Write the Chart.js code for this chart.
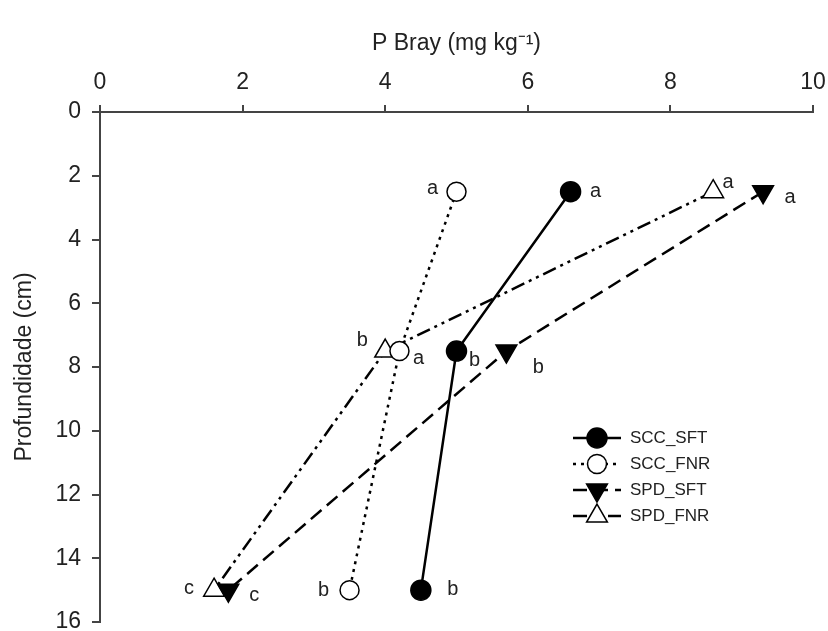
<!DOCTYPE html>
<html>
<head>
<meta charset="utf-8">
<script src="https://cdn.jsdelivr.net/npm/chart.js@4/dist/chart.umd.min.js"></script>
<style>
  html, body { margin: 0; padding: 0; background: #fff; }
</style>
</head>
<body>
<canvas id="chart" width="828" height="631"></canvas>
<script>
// depth of each sampling layer (cm)
const depths = [2.5, 7.5, 15];

// P Bray (mg kg-1) per treatment
const sccSft = [6.6, 5.0, 4.5];
const sccFnr = [5.0, 4.2, 3.5];
const spdSft = [9.3, 5.7, 1.8];
const spdFnr = [8.6, 4.0, 1.6];

// significance letters
const sccSftLetters = ['a', 'b', 'b'];
const sccFnrLetters = ['a', 'a', 'b'];
const spdSftLetters = ['a', 'b', 'c'];
const spdFnrLetters = ['a', 'b', 'c'];

const xTicks = [0, 2, 4, 6, 8, 10];
const yTicks = [0, 2, 4, 6, 8, 10, 12, 14, 16];

const toPoints = vals => vals.map((v, i) => ({ x: v, y: depths[i] }));

// pixel offsets of the letters from their points
const letterOffsets = [
  [[25, 0], [18, 9], [32, -1]],
  [[-24, -3], [19, 7], [-26, 0]],
  [[27, 6], [32, 16], [26, 5]],
  [[15, -9], [-23, -11], [-25, -2]]
];
const allLetters = [sccSftLetters, sccFnrLetters, spdSftLetters, spdFnrLetters];

// let the y axis run down to the bottom edge like the original (16 label gets cut)
const areaPlugin = {
  id: 'area',
  afterLayout(chart) {
    const ys = chart.scales.y;
    const bottom = 622;
    chart.chartArea.bottom = bottom;
    chart.chartArea.height = bottom - chart.chartArea.top;
    ys.bottom = bottom;
    ys.height = bottom - ys.top;
    ys.configure();
  }
};

const lettersPlugin = {
  id: 'letters',
  afterDatasetsDraw(chart) {
    const ctx = chart.ctx;
    const xs = chart.scales.x, ys = chart.scales.y;
    ctx.save();
    ctx.fillStyle = '#222';
    ctx.font = '20px "Liberation Sans", Arial, sans-serif';
    ctx.textAlign = 'center';
    ctx.textBaseline = 'middle';
    chart.data.datasets.forEach((ds, i) => {
      ds.data.forEach((p, j) => {
        const off = letterOffsets[i][j];
        ctx.fillText(allLetters[i][j], xs.getPixelForValue(p.x) + off[0], ys.getPixelForValue(p.y) + off[1]);
      });
    });
    ctx.restore();
  }
};

const legendPlugin = {
  id: 'boxLegend',
  afterDraw(chart) {
    const ctx = chart.ctx;
    ctx.save();
    chart.data.datasets.forEach((ds, i) => {
      const y = 438 + i * 26;
      ctx.strokeStyle = '#000';
      ctx.lineWidth = ds.borderWidth;
      ctx.setLineDash(ds.borderDash);
      ctx.beginPath();
      ctx.moveTo(573, y);
      ctx.lineTo(621, y);
      ctx.stroke();
      ctx.setLineDash([]);
      ctx.fillStyle = ds.pointBackgroundColor;
      ctx.lineWidth = ds.pointBorderWidth;
      Chart.helpers.drawPoint(ctx, {
        pointStyle: ds.pointStyle,
        rotation: ds.pointRotation,
        radius: ds.pointRadius,
        borderWidth: ds.pointBorderWidth
      }, 597, y);
      ctx.fillStyle = '#222';
      ctx.font = '17px "Liberation Sans", Arial, sans-serif';
      ctx.textAlign = 'left';
      ctx.textBaseline = 'middle';
      ctx.fillText(ds.label, 630, y);
    });
    ctx.restore();
  }
};

const series = (label, vals, dash, style, rot, radius, fill) => ({
  label: label,
  data: toPoints(vals),
  showLine: true,
  borderColor: '#000',
  borderWidth: 2.5,
  borderDash: dash,
  pointStyle: style,
  pointRotation: rot,
  pointRadius: radius,
  pointHoverRadius: radius,
  pointBackgroundColor: fill,
  pointBorderColor: '#000',
  pointBorderWidth: 1.5
});

new Chart(document.getElementById('chart'), {
  type: 'scatter',
  data: {
    datasets: [
      series('SCC_SFT', sccSft, [], 'circle', 0, 10, '#000'),
      series('SCC_FNR', sccFnr, [3, 5], 'circle', 0, 9.5, '#fff'),
      series('SPD_SFT', spdSft, [14, 7], 'triangle', 180, 12, '#000'),
      series('SPD_FNR', spdFnr, [14, 5, 3, 5, 3, 5], 'triangle', 0, 12, '#fff')
    ]
  },
  options: {
    responsive: false,
    animation: false,
    layout: { padding: { left: 0, top: 0, right: 15, bottom: 9 } },
    plugins: {
      legend: { display: false },
      tooltip: { enabled: false }
    },
    scales: {
      x: {
        type: 'linear',
        position: 'top',
        min: 0,
        max: 10,
        afterBuildTicks: s => { s.ticks = xTicks.map(v => ({ value: v })); },
        afterFit: s => { s.height = 112; s.paddingLeft = 0; s.paddingRight = 0; },
        ticks: {
          color: '#222',
          padding: 9,
          font: { family: '"Liberation Sans", Arial, sans-serif', size: 23 }
        },
        grid: { drawOnChartArea: false, drawTicks: true, tickLength: 7, color: '#444', lineWidth: 2 },
        border: { display: true, color: '#444', width: 2 },
        title: {
          display: true,
          text: 'P Bray (mg kg⁻¹)',
          color: '#222',
          font: { family: '"Liberation Sans", Arial, sans-serif', size: 23 },
          padding: { top: 30, bottom: 0 }
        }
      },
      y: {
        type: 'linear',
        reverse: true,
        min: 0,
        max: 16,
        afterBuildTicks: s => { s.ticks = yTicks.map(v => ({ value: v })); },
        afterFit: s => { s.width = 100; s.paddingTop = 0; s.paddingBottom = 0; },
        ticks: {
          color: '#222',
          padding: 11,
          font: { family: '"Liberation Sans", Arial, sans-serif', size: 23 }
        },
        grid: { drawOnChartArea: false, drawTicks: true, tickLength: 8, color: '#444', lineWidth: 2 },
        border: { display: true, color: '#444', width: 2 },
        title: {
          display: true,
          text: 'Profundidade (cm)',
          color: '#222',
          font: { family: '"Liberation Sans", Arial, sans-serif', size: 23 },
          padding: { top: 11, bottom: 0 }
        }
      }
    }
  },
  plugins: [areaPlugin, lettersPlugin, legendPlugin]
});
</script>
</body>
</html>
